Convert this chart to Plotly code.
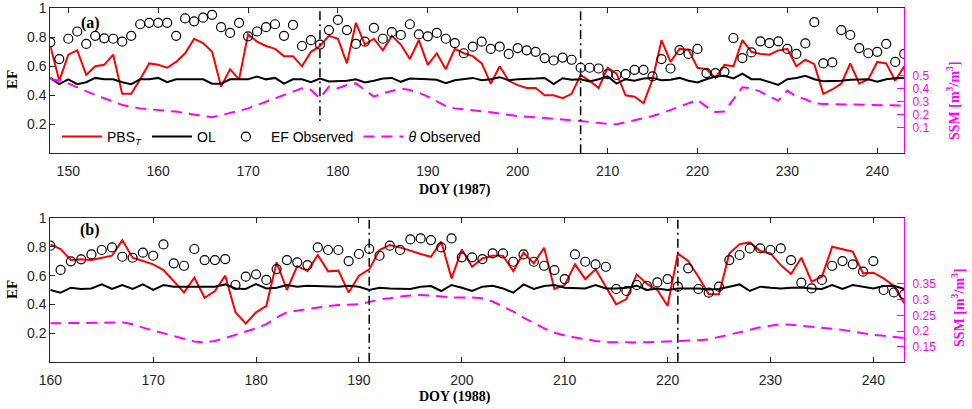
import plotly.graph_objects as go

# ---------------- Panel (a): 1987 ----------------
doy_a = list(range(148, 244))
pbs_a = [0.74, 0.50, 0.68, 0.71, 0.54, 0.60, 0.61, 0.68, 0.41, 0.41,
         0.51, 0.62, 0.61, 0.59, 0.63, 0.69, 0.79, 0.76, 0.70, 0.46,
         0.58, 0.51, 0.82, 0.77, 0.74, 0.72, 0.67, 0.67, 0.60, 0.70,
         0.74, 0.81, 0.79, 0.62, 0.90, 0.75, 0.79, 0.71, 0.81, 0.75,
         0.65, 0.78, 0.61, 0.69, 0.58, 0.72, 0.69, 0.67, 0.62, 0.48,
         0.60, 0.50, 0.47, 0.45, 0.45, 0.40, 0.40, 0.38, 0.41, 0.54,
         0.50, 0.45, 0.59, 0.55, 0.40, 0.39, 0.345, 0.51, 0.78, 0.63,
         0.72, 0.715, 0.59, 0.58, 0.52, 0.61, 0.60, 0.78, 0.70, 0.685,
         0.68, 0.71, 0.72, 0.60, 0.645, 0.615, 0.41, 0.44, 0.48, 0.62,
         0.48, 0.51, 0.63, 0.62, 0.50, 0.60]
ol_a = [0.52, 0.477, 0.51, 0.477, 0.49, 0.52, 0.51, 0.51, 0.49, 0.477,
        0.51, 0.51, 0.52, 0.49, 0.51, 0.51, 0.51, 0.51, 0.48, 0.48,
        0.51, 0.51, 0.51, 0.53, 0.51, 0.52, 0.48, 0.51, 0.51, 0.49,
        0.516, 0.495, 0.50, 0.50, 0.511, 0.488, 0.50, 0.516, 0.52, 0.493,
        0.516, 0.516, 0.511, 0.507, 0.484, 0.504, 0.511, 0.52, 0.504, 0.511,
        0.525, 0.504, 0.511, 0.511, 0.516, 0.52, 0.477, 0.518, 0.507, 0.511,
        0.495, 0.511, 0.53, 0.481, 0.511, 0.50, 0.516, 0.52, 0.504, 0.507,
        0.52, 0.50, 0.488, 0.511, 0.53, 0.535, 0.516, 0.55, 0.511, 0.511,
        0.493, 0.472, 0.511, 0.52, 0.535, 0.511, 0.497, 0.497, 0.50, 0.507,
        0.511, 0.511, 0.493, 0.511, 0.518, 0.52]
efobs_a = [0.765, 0.65, 0.79, 0.84, 0.754, 0.81, 0.793, 0.79, 0.77, 0.81,
           0.89, 0.90, 0.90, 0.90, 0.81, 0.93, 0.91, 0.935, 0.955, 0.87,
           0.83, 0.90, 0.807, 0.84, 0.87, 0.89, 0.81, 0.885, 0.74, 0.78,
           0.75, 0.85, 0.92, 0.85, 0.754, 0.77, 0.865, 0.79, 0.835, 0.816,
           0.89, 0.82, 0.807, 0.83, 0.79, 0.76, 0.69, 0.735, 0.77, 0.72,
           0.735, 0.685, 0.726, 0.71, 0.70, 0.657, 0.64, 0.66, 0.645, 0.59,
           0.59, 0.585, 0.546, 0.54, 0.546, 0.576, 0.576, 0.53, 0.65, 0.585,
           0.712, 0.685, 0.72, 0.553, 0.553, 0.562, 0.795, 0.657, 0.696, 0.772,
           0.76, 0.772, 0.72, 0.685, 0.758, 0.904, 0.62, 0.627, 0.85, 0.816,
           0.726, 0.69, 0.70, 0.754, 0.63, 0.685]
ssm_a = [0.474, 0.46, 0.44, 0.41, 0.376, 0.35, 0.325, 0.30, 0.273, 0.26,
         0.247, 0.24, 0.235, 0.228, 0.222, 0.21, 0.196, 0.187, 0.178, 0.193,
         0.209, 0.228, 0.247, 0.273, 0.299, 0.325, 0.35, 0.376, 0.402, 0.389,
         0.325, 0.415, 0.402, 0.428, 0.44, 0.389, 0.338, 0.363, 0.384, 0.40,
         0.389, 0.368, 0.338, 0.299, 0.265, 0.247, 0.24, 0.235, 0.227, 0.217,
         0.206, 0.196, 0.188, 0.183, 0.178, 0.173, 0.17, 0.165, 0.157, 0.15,
         0.142, 0.132, 0.127, 0.124, 0.14, 0.155, 0.17, 0.188, 0.209, 0.235,
         0.26, 0.286, 0.312, 0.26, 0.219, 0.222, 0.312, 0.41, 0.402, 0.376,
         0.338, 0.307, 0.384, 0.338, 0.317, 0.286, 0.281, 0.28, 0.279, 0.278,
         0.277, 0.276, 0.274, 0.272, 0.27, 0.268]
vlines_a = [178, 207]

# ---------------- Panel (b): 1988 ----------------
doy_b = list(range(160, 244))
pbs_b = [0.818, 0.786, 0.709, 0.714, 0.709, 0.725, 0.739, 0.848, 0.725, 0.702,
         0.679, 0.639, 0.5625, 0.483, 0.586, 0.446, 0.493, 0.60, 0.344, 0.267,
         0.344, 0.39, 0.693, 0.50, 0.667, 0.632, 0.744, 0.63, 0.635, 0.483,
         0.60, 0.644, 0.779, 0.814, 0.797, 0.772, 0.751, 0.732, 0.837, 0.581,
         0.783, 0.662, 0.72, 0.739, 0.739, 0.632, 0.76, 0.686, 0.795, 0.507,
         0.535, 0.679, 0.576, 0.644, 0.523, 0.40, 0.437, 0.609, 0.542, 0.50,
         0.39, 0.755, 0.702, 0.593, 0.47, 0.47, 0.755, 0.82, 0.832, 0.772,
         0.755, 0.674, 0.611, 0.725, 0.558, 0.593, 0.802, 0.786, 0.767, 0.616,
         0.621, 0.581, 0.528, 0.407]
ol_b = [0.50, 0.481, 0.516, 0.507, 0.511, 0.539, 0.507, 0.535, 0.507, 0.539,
        0.50, 0.535, 0.523, 0.523, 0.523, 0.523, 0.523, 0.539, 0.511, 0.507,
        0.542, 0.511, 0.516, 0.535, 0.523, 0.53, 0.528, 0.523, 0.523, 0.53,
        0.523, 0.50, 0.516, 0.511, 0.507, 0.507, 0.523, 0.528, 0.493, 0.535,
        0.516, 0.493, 0.523, 0.53, 0.511, 0.481, 0.539, 0.507, 0.528, 0.535,
        0.516, 0.511, 0.511, 0.535, 0.511, 0.511, 0.516, 0.53, 0.50, 0.511,
        0.50, 0.511, 0.511, 0.511, 0.504, 0.507, 0.523, 0.539, 0.493, 0.523,
        0.516, 0.511, 0.516, 0.518, 0.511, 0.507, 0.535, 0.507, 0.535, 0.523,
        0.511, 0.528, 0.53, 0.507]
efobs_b = [0.809, 0.64, 0.70, 0.714, 0.748, 0.779, 0.797, 0.732, 0.725, 0.76,
           0.739, 0.818, 0.686, 0.669, 0.786, 0.709, 0.709, 0.716, 0.535, 0.593,
           0.609, 0.57, 0.646, 0.709, 0.693, 0.674, 0.797, 0.779, 0.779, 0.702,
           0.751, 0.786, 0.739, 0.809, 0.779, 0.853, 0.86, 0.848, 0.797, 0.86,
           0.728, 0.728, 0.716, 0.755, 0.755, 0.697, 0.748, 0.697, 0.669, 0.639,
           0.576, 0.748, 0.697, 0.679, 0.662, 0.507, 0.493, 0.535, 0.528, 0.553,
           0.576, 0.523, 0.651, 0.507, 0.481, 0.523, 0.709, 0.744, 0.79, 0.79,
           0.779, 0.79, 0.709, 0.551, 0.511, 0.57, 0.669, 0.702, 0.679, 0.628,
           0.702, 0.50, 0.483, 0.47]
ssm_b = [0.225, 0.225, 0.225, 0.225, 0.225, 0.226, 0.227, 0.228, 0.222, 0.211,
         0.202, 0.193, 0.185, 0.175, 0.167, 0.164, 0.169, 0.178, 0.188, 0.199,
         0.209, 0.222, 0.243, 0.26, 0.266, 0.27, 0.275, 0.28, 0.283, 0.284,
         0.285, 0.292, 0.301, 0.304, 0.31, 0.313, 0.315, 0.313, 0.31, 0.307,
         0.307, 0.307, 0.304, 0.294, 0.278, 0.262, 0.243, 0.225, 0.209, 0.195,
         0.186, 0.18, 0.174, 0.169, 0.165, 0.164, 0.164, 0.164, 0.165, 0.166,
         0.167, 0.168, 0.169, 0.171, 0.174, 0.181, 0.188, 0.195, 0.204, 0.212,
         0.218, 0.222, 0.22, 0.217, 0.213, 0.211, 0.207, 0.204, 0.199, 0.193,
         0.188, 0.185, 0.181, 0.178]
vlines_b = [191, 221]

# ticks
ef_ticks = [0.2, 0.4, 0.6, 0.8, 1.0]
ef_ticktext = ["0.2", "0.4", "0.6", "0.8", "1"]
x_ticks = [150, 160, 170, 180, 190, 200, 210, 220, 230, 240]
x_ticks_b = [160, 170, 180, 190, 200, 210, 220, 230, 240]
ssm_ticks_a = [0.1, 0.2, 0.3, 0.4, 0.5]
ssm_ticks_b = [0.15, 0.2, 0.25, 0.3, 0.35]

RED = "#FF0000"
MAG = "#FF00FF"
AX = "#262626"
W, H = 972, 409
SANS = "Liberation Sans, Arial, sans-serif"
SERIF = "Liberation Serif, Times New Roman, serif"

fig = go.Figure()

def add_panel(x, pbs, ol, ef, ssm, xa, ya, ya2, legend):
    fig.add_trace(go.Scatter(x=x, y=pbs, mode="lines", name="PBS<sub><i>T</i></sub>",
                             line=dict(color=RED, width=2), xaxis=xa, yaxis=ya,
                             showlegend=legend))
    fig.add_trace(go.Scatter(x=x, y=ol, mode="lines", name="OL",
                             line=dict(color="black", width=2), xaxis=xa, yaxis=ya,
                             showlegend=legend))
    fig.add_trace(go.Scatter(x=x, y=ef, mode="markers", name="EF Observed",
                             marker=dict(symbol="circle-open", size=9, color="black",
                                         line=dict(width=1.2, color="black")),
                             xaxis=xa, yaxis=ya, showlegend=legend))
    fig.add_trace(go.Scatter(x=x, y=ssm, mode="lines", name="<i>θ</i> Observed",
                             line=dict(color=MAG, width=2, dash="11px,7px"),
                             xaxis=xa, yaxis=ya2, showlegend=legend))

add_panel(doy_a, pbs_a, ol_a, efobs_a, ssm_a, "x", "y", "y2", True)
add_panel(doy_b, pbs_b, ol_b, efobs_b, ssm_b, "x2", "y3", "y4", False)

xdom = [50.3 / W, 904.2 / W]
ydom_a = [1 - 153.3 / H, 1 - 8.3 / H]
ydom_b = [1 - 361.7 / H, 1 - 218.3 / H]

xcommon = dict(domain=xdom, showgrid=False, zeroline=False, ticks="inside", ticklen=5,
               tickcolor=AX, showline=True, linecolor=AX, linewidth=1, mirror="ticks",
               ticklabelstandoff=5,
               tickfont=dict(family=SANS, size=14, color=AX))
ycommon = dict(showgrid=False, zeroline=False, ticks="inside", ticklen=5, tickcolor=AX,
               showline=True, linecolor=AX, linewidth=1, range=[0, 1],
               tickvals=ef_ticks, ticktext=ef_ticktext,
               tickfont=dict(family=SANS, size=14, color=AX))
y2common = dict(showgrid=False, zeroline=False, side="right", ticks="inside", ticklen=7,
                tickcolor=MAG, showline=True, linecolor=MAG, linewidth=1,
                ticklabelstandoff=5,
                tickfont=dict(family=SANS, size=12, color=MAG))

fig.update_layout(
    width=W, height=H, margin=dict(l=0, r=0, t=0, b=0, autoexpand=False),
    paper_bgcolor="white", plot_bgcolor="white",
    xaxis=dict(xcommon, anchor="y", range=[148, 243], tickvals=x_ticks),
    yaxis=dict(ycommon, domain=ydom_a, anchor="x"),
    yaxis2=dict(y2common, overlaying="y", anchor="x", range=[-0.1, 1.02],
                tickvals=ssm_ticks_a, ticktext=["0.1", "0.2", "0.3", "0.4", "0.5"]),
    xaxis2=dict(xcommon, anchor="y3", range=[160, 243], tickvals=x_ticks_b),
    yaxis3=dict(ycommon, domain=ydom_b, anchor="x2"),
    yaxis4=dict(y2common, overlaying="y3", anchor="x2", range=[0.103, 0.558],
                tickvals=ssm_ticks_b, ticktext=["0.15", "0.2", "0.25", "0.3", "0.35"]),
    legend=dict(orientation="h", x=57 / W, y=1 - 137 / H, xanchor="left", yanchor="middle",
                bgcolor="white", borderwidth=0, font=dict(family=SANS, size=14, color="black"),
                itemwidth=40),
    showlegend=True,
)

shapes = []
for v in vlines_a:
    shapes.append(dict(type="line", xref="x", yref="y domain", x0=v, x1=v, y0=0, y1=1,
                       line=dict(color="black", width=1.5, dash="9px,4px,2px,4px"), layer="above"))
for v in vlines_b:
    shapes.append(dict(type="line", xref="x2", yref="y3 domain", x0=v, x1=v, y0=0, y1=1,
                       line=dict(color="black", width=1.5, dash="9px,4px,2px,4px"), layer="above"))
fig.update_layout(shapes=shapes)

def ann(text, x, y, size=14, color="black", angle=0):
    return dict(text=text, x=x / W, y=1 - y / H, xref="paper", yref="paper",
                xanchor="center", yanchor="middle", showarrow=False, textangle=angle,
                font=dict(family=SERIF, size=size, color=color))

fig.update_layout(annotations=[
    ann("<b>(a)</b>", 90, 23, size=16),
    ann("<b>(b)</b>", 90, 230, size=16),
    ann("<b>EF</b>", 12, 80, size=15, angle=-90),
    ann("<b>EF</b>", 12, 290, size=15, angle=-90),
    ann("<b>DOY (1987)</b>", 455, 190),
    ann("<b>DOY (1988)</b>", 455, 397),
    ann("<b>SSM [m<sup>3</sup>/m<sup>3</sup>]</b>", 953, 101, color=MAG, angle=-90),
    ann("<b>SSM [m<sup>3</sup>/m<sup>3</sup>]</b>", 958, 308, color=MAG, angle=-90),
])

fig.write_html("out.html")
